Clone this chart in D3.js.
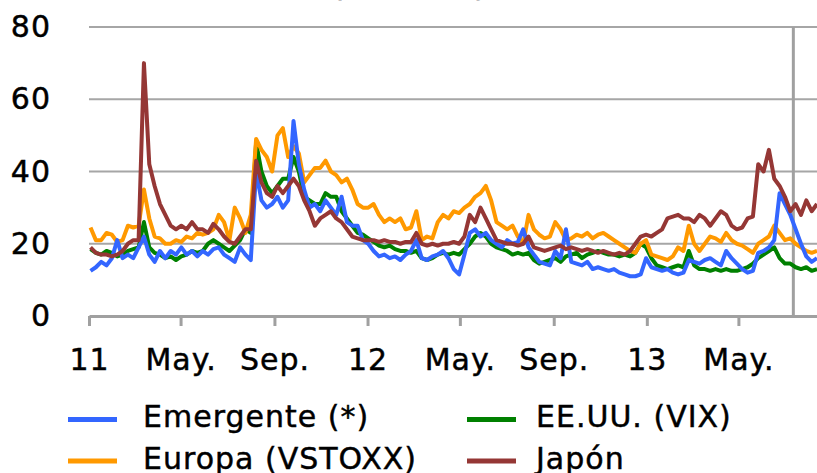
<!DOCTYPE html>
<html>
<head>
<meta charset="utf-8">
<script src="https://cdn.jsdelivr.net/npm/d3@7"></script>
<style>
  html, body { margin: 0; padding: 0; background: #fff; }
  svg { display: block; }
</style>
</head>
<body>
<div id="chart"></div>
<script>
// weekly observations, first one is Monday 3 Jan 2011
const firstWeek = new Date(2011, 0, 3);

const emergente = [
  12.5, 13.5, 15, 14, 16, 21, 16, 17, 16, 19,
  22, 17, 15, 18, 16, 18, 17, 19, 17, 18,
  16.5, 18, 17, 18.5, 19, 17, 16, 15, 19, 17,
  15.5, 40, 32, 30, 31, 33, 30, 32, 54, 42,
  35, 30, 31, 29, 32, 30, 28, 33, 26, 25,
  25, 21,
  20, 18, 16.5, 17, 16, 16.5, 15.5, 17, 18, 21,
  16, 15.5, 16.5, 17, 18, 16, 13, 11.5, 17, 23,
  24, 22, 23, 21, 20, 19, 21, 20, 20.5, 24,
  19, 17, 15, 14.5, 14, 18, 16, 24, 15, 14.5,
  14, 15, 13, 13.5, 13, 12.5, 13, 12, 11.5, 11,
  11, 11.5, 16,
  13.5, 13, 12.5, 13, 12, 11.5, 12, 15.5, 15, 14.5,
  15.5, 16, 15, 14, 18, 16, 14.5, 13, 12, 12.5,
  17.5, 18, 19, 21, 34, 31, 28, 24, 20, 16.5,
  15, 16
];

const europa = [
  24.5, 21, 21, 23, 22.5, 20.5, 21, 25, 24.5, 25,
  35, 27, 22, 21.5, 20, 20, 21, 20.5, 22, 21.5,
  23, 22.5, 23, 24, 28, 26, 21, 30, 27, 23,
  28, 49, 46, 44, 40, 50, 52, 44, 47, 45,
  37, 39, 41, 41, 43, 40, 39, 37, 38, 35,
  31, 30,
  30, 31, 28, 26, 27, 26, 27, 24, 24.5, 29,
  21, 22, 21.5, 26, 28, 27, 29, 28.5, 30, 31,
  33, 34, 36, 32, 26, 25, 24, 25, 22, 20,
  28, 24, 22.5, 21.5, 22, 26, 24, 21, 21.5, 22.5,
  22, 23, 21.5, 22.5, 23, 22, 21, 20, 19, 18,
  17.5, 20, 21,
  17, 16.5, 16, 15.5, 16.5, 19, 18, 25, 20, 18,
  20, 22, 21.5, 20.5, 23, 21, 20, 19.5, 18.5, 17.5,
  20, 21, 22, 25, 23, 21, 21.5, 20, 19, 18,
  17.5, 18
];

const eeuu = [
  18.5, 17.5, 17, 18, 17.5, 16.5, 17, 18, 18.5, 19,
  26, 19, 17.5, 17, 16, 16.5, 15.5, 16.5, 17, 18,
  17.5, 18, 20, 21, 20, 19, 18, 19.5, 21, 24,
  23, 48, 40, 36, 34, 36, 38, 38, 44, 40,
  33, 32, 31, 31, 34, 33, 33, 29, 27, 25,
  23, 22.5,
  21.5, 20.5, 19.5, 19, 19.5, 18.5, 18, 18, 17.5, 18,
  16, 15.5, 16, 17, 17.5, 17, 17.5, 17, 18.5, 20,
  22, 23, 22, 20, 19, 18.5, 18, 17, 17.5, 17,
  17.5, 15.5, 14.5, 15, 15.5, 16, 15, 16.5, 17, 17.5,
  16, 17, 17.5, 18, 17.5, 17, 17, 16.5, 17, 16.5,
  17.5, 20, 19,
  16, 14, 13.5, 13, 13.5, 14, 13.5, 18, 14, 13,
  13, 12.5, 13, 12.5, 13, 12.5, 12.5, 13, 13.5, 14.5,
  16, 17, 18, 19, 16, 14.5, 14.5, 13.5, 13, 13.5,
  12.5, 13
];

const japon = [
  19, 17.5, 17, 17, 16.5, 17, 18, 20, 21, 21,
  70, 42, 36, 31, 28, 25, 24, 25, 24, 26,
  24, 24, 23, 25.5, 24, 22, 20.5, 20, 22, 24,
  24, 43, 37, 34, 33, 36, 34, 36, 38, 36,
  32, 29, 25, 27, 28, 29, 27, 26, 24, 22,
  21.5, 21,
  21, 21, 20.5, 21, 20.5, 20.5, 20, 20.5, 20.5, 23,
  20, 19.5, 20, 19.5, 20, 20, 20.5, 20, 22, 28,
  26, 30, 27, 24, 21, 20.5, 20, 20, 19.5, 20,
  22, 19, 18.5, 18, 18.5, 19, 19.5, 18.5, 19, 18.5,
  18, 18.5, 18, 17.5, 18, 17.5, 17, 17.5, 17, 18,
  20, 22, 22.5,
  22, 23, 24, 27, 27.5, 28, 27, 27, 26, 28,
  27, 25, 27, 29, 28, 25, 24, 24.5, 27, 27.5,
  42, 40, 46, 38, 36, 33, 29, 31, 28, 32,
  29, 31
];

const tickDates = [
  new Date(2011, 0, 1), new Date(2011, 4, 1), new Date(2011, 8, 1),
  new Date(2012, 0, 1), new Date(2012, 4, 1), new Date(2012, 8, 1),
  new Date(2013, 0, 1), new Date(2013, 4, 1)
];
const tickLabels = ["11", "May.", "Sep.", "12", "May.", "Sep.", "13", "May."];
const yTicks = [0, 20, 40, 60, 80];
const markerDate = new Date(2013, 6, 12);

const seriesNames = ["Emergente (*)", "EE.UU. (VIX)", "Europa (VSTOXX)", "Japón"];

const width = 817;
const height = 473;
const font = "'DejaVu Sans', Verdana, sans-serif";
const gridColor = "#a6a6a6";
const axisColor = "#a0a0a0";

const colors = {
  "Emergente (*)": "#3366ff",
  "EE.UU. (VIX)": "#008000",
  "Europa (VSTOXX)": "#ff9900",
  "Japón": "#953735"
};

const dates = d3.timeMonday.range(firstWeek, new Date(2013, 7, 20)).slice(0, emergente.length);

const x = d3.scaleTime()
  .domain([new Date(2011, 0, 1), new Date(2013, 7, 12)])
  .range([89, 817]);

const y = d3.scaleLinear().domain([0, 80]).range([316, 27]);

const svg = d3.select("#chart").append("svg")
  .attr("width", width)
  .attr("height", height)
  .style("font-family", font);

// text in the reference is a touch wider and heavier than plain DejaVu
function heavy(sel) {
  sel.attr("font-family", font)
    .attr("fill", "#000")
    .attr("stroke", "#000")
    .attr("stroke-width", 0.45)
    .attr("letter-spacing", "1px");
}

// title, almost all of it sits above the frame
svg.append("text")
  .attr("x", 421)
  .attr("y", -6)
  .attr("text-anchor", "middle")
  .attr("font-size", "30px")
  .call(heavy)
  .text("(porcentaje)");

// horizontal grid
svg.append("g")
  .selectAll("line")
  .data(yTicks.filter(d => d > 0))
  .join("line")
  .attr("x1", 89)
  .attr("x2", width)
  .attr("y1", d => y(d))
  .attr("y2", d => y(d))
  .attr("stroke", gridColor)
  .attr("stroke-width", 2);

// y labels
const yAxis = svg.append("g")
  .attr("transform", "translate(51,0)")
  .call(d3.axisLeft(y).tickValues(yTicks).tickSize(0).tickPadding(0));
yAxis.select(".domain").remove();
yAxis.selectAll("text")
  .attr("font-size", "30px")
  .call(heavy);

// marker line
svg.append("line")
  .attr("x1", x(markerDate))
  .attr("x2", x(markerDate))
  .attr("y1", y(80))
  .attr("y2", y(0))
  .attr("stroke", axisColor)
  .attr("stroke-width", 3);

// x axis
const xAxis = svg.append("g")
  .attr("transform", `translate(0,${y(0)})`)
  .call(d3.axisBottom(x)
    .tickValues(tickDates)
    .tickFormat((d, i) => tickLabels[i])
    .tickSize(10)
    .tickSizeOuter(0));
xAxis.select(".domain")
  .attr("stroke", axisColor)
  .attr("stroke-width", 3);
xAxis.selectAll(".tick line")
  .attr("stroke", axisColor)
  .attr("stroke-width", 3);
xAxis.selectAll(".tick text")
  .attr("font-size", "30px")
  .call(heavy)
  .attr("y", 54)
  .attr("dy", 0);

// series lines
const line = d3.line()
  .x((d, i) => x(dates[i]))
  .y(d => y(d));

const drawOrder = [
  ["EE.UU. (VIX)", eeuu],
  ["Europa (VSTOXX)", europa],
  ["Emergente (*)", emergente],
  ["Japón", japon]
];

svg.append("g")
  .selectAll("path")
  .data(drawOrder)
  .join("path")
  .attr("d", d => line(d[1]))
  .attr("fill", "none")
  .attr("stroke", d => colors[d[0]])
  .attr("stroke-width", 4)
  .attr("stroke-linejoin", "round");

// legend
const legendPos = [
  { sx: 68, tx: 143, sy: 419.5, ty: 427 },
  { sx: 467, tx: 536, sy: 419.5, ty: 427 },
  { sx: 68, tx: 143, sy: 461, ty: 469 },
  { sx: 467, tx: 536, sy: 461, ty: 469 }
];

const legend = svg.append("g")
  .selectAll("g")
  .data(seriesNames)
  .join("g");

legend.append("line")
  .attr("x1", (d, i) => legendPos[i].sx)
  .attr("x2", (d, i) => legendPos[i].sx + 49)
  .attr("y1", (d, i) => legendPos[i].sy)
  .attr("y2", (d, i) => legendPos[i].sy)
  .attr("stroke", d => colors[d])
  .attr("stroke-width", 5);

legend.append("text")
  .attr("x", (d, i) => legendPos[i].tx)
  .attr("y", (d, i) => legendPos[i].ty)
  .attr("font-size", "30px")
  .call(heavy)
  .text(d => d);
</script>
</body>
</html>
